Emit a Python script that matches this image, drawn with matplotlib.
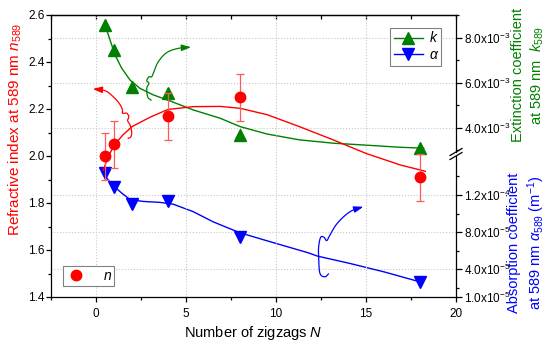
import numpy as np
import matplotlib
matplotlib.use('Agg')
import matplotlib.pyplot as plt
from matplotlib.lines import Line2D
from matplotlib.ticker import MultipleLocator

plt.rcParams['font.family'] = ['Liberation Sans', 'DejaVu Sans']
plt.rcParams['mathtext.fontset'] = 'custom'
plt.rcParams['mathtext.rm'] = 'Liberation Sans'
plt.rcParams['mathtext.it'] = 'Liberation Sans:italic'
plt.rcParams['mathtext.bf'] = 'Liberation Sans:bold'

# measured points
zigzags = [0.5, 1, 4, 8, 18]
n589 = [2.00, 2.05, 2.17, 2.25, 1.91]
n_err = [0.1, 0.1, 0.1, 0.1, 0.1]

kz = [0.5, 1, 2, 4, 8, 18]
k589 = [8.56e-3, 7.47e-3, 5.82e-3, 5.57e-3, 3.68e-3, 3.12e-3]
alpha589 = [1.44e-4, 1.29e-4, 1.10e-4, 1.14e-4, 7.5e-5, 2.6e-5]

# fitted curves
n_fit_x = [0.4, 0.7, 1.0, 1.5, 2.0, 3.0, 4.0, 5.4, 6.9, 8.0, 9.5, 11.3, 13.2, 15.0, 16.9, 18.3]
n_fit_y = [1.94, 2.0, 2.045, 2.09, 2.125, 2.165, 2.198, 2.21, 2.211, 2.203, 2.176, 2.125,
           2.068, 2.011, 1.962, 1.935]
k_fit_x = [0.5, 0.78, 1.06, 1.43, 1.89, 2.44, 3.18, 4.11, 5.4, 6.9, 8.0, 9.5, 11.3, 13.2,
           14.9, 16.9, 18.2]
k_fit_y = [8.58e-3, 7.91e-3, 7.24e-3, 6.65e-3, 6.13e-3, 5.76e-3, 5.47e-3, 5.20e-3, 4.80e-3,
           4.43e-3, 4.06e-3, 3.73e-3, 3.47e-3, 3.32e-3, 3.24e-3, 3.14e-3, 3.10e-3]
a_fit_x = [0.35, 0.6, 0.96, 1.43, 1.89, 2.63, 3.56, 4.3, 5.4, 6.5, 8.0, 9.5, 11.8, 12.3,
           14.1, 16.0, 18.0]
a_fit_y = [1.47e-4, 1.38e-4, 1.30e-4, 1.22e-4, 1.15e-4, 1.13e-4, 1.12e-4, 1.10e-4, 1.02e-4,
           9.11e-5, 7.92e-5, 7.06e-5, 5.76e-5, 5.41e-5, 4.62e-5, 3.71e-5, 2.63e-5]

# curly arrows (tip first), in N / n coordinates
red_arrow = [(-0.18, 2.285), (0.5, 2.278), (0.96, 2.252), (1.29, 2.224), (1.46, 2.199),
             (1.48, 2.182), (1.71, 2.182), (1.82, 2.167), (1.76, 2.150), (1.89, 2.132),
             (1.98, 2.103), (1.94, 2.082), (1.79, 2.075)]
green_arrow = [(5.28, 2.463), (4.57, 2.458), (3.93, 2.440), (3.46, 2.401), (3.22, 2.359),
               (3.09, 2.337), (2.94, 2.337), (2.82, 2.320), (2.94, 2.309), (2.82, 2.288),
               (2.87, 2.252), (3.06, 2.238)]
blue_arrow = [(14.85, 1.784), (14.11, 1.763), (13.41, 1.714), (13.0, 1.664), (12.82, 1.640),
              (12.67, 1.654), (12.48, 1.654), (12.37, 1.614), (12.37, 1.571), (12.44, 1.501),
              (12.72, 1.486), (12.91, 1.498)]


def smooth(pts, steps=10):
    p = np.asarray(pts, float)
    p = np.vstack([p[0], p, p[-1]])
    out = []
    for i in range(1, len(p) - 2):
        p0, p1, p2, p3 = p[i - 1], p[i], p[i + 1], p[i + 2]
        for t in np.linspace(0, 1, steps, endpoint=False):
            out.append(0.5 * (2 * p1 + (-p0 + p2) * t + (2 * p0 - 5 * p1 + 4 * p2 - p3) * t ** 2
                              + (-p0 + 3 * p1 - 3 * p2 + p3) * t ** 3))
    out.append(p[-2])
    return np.array(out)


def curly(ax, pts, color):
    c = smooth(pts)
    ax.plot(c[3:, 0], c[3:, 1], color=color, lw=0.9, zorder=4)
    ax.annotate('', xy=c[0], xytext=c[4], zorder=4,
                arrowprops=dict(arrowstyle='-|>,head_length=0.7,head_width=0.24',
                                color=color, lw=0.9, shrinkA=0, shrinkB=0, mutation_scale=8))


W_PX, H_PX = 550, 348
fig = plt.figure(figsize=(5.5, 3.48), dpi=100)


def box(x0, y0, x1, y1):
    return [x0 / W_PX, 1 - y1 / H_PX, (x1 - x0) / W_PX, (y1 - y0) / H_PX]


ax = fig.add_axes(box(51, 15, 456, 297))
axk = fig.add_axes(box(51, 15, 456, 152))
axa = fig.add_axes(box(51, 156, 456, 297))

ax.set_zorder(3)
ax.patch.set_visible(False)

# main axis
ax.set_xlim(-2.5, 20)
ax.set_ylim(1.4, 2.6)
ax.xaxis.set_major_locator(MultipleLocator(5))
ax.xaxis.set_minor_locator(MultipleLocator(2.5))
ax.yaxis.set_major_locator(MultipleLocator(0.2))
ax.yaxis.set_minor_locator(MultipleLocator(0.1))
ax.yaxis.set_major_formatter(plt.FormatStrFormatter('%.1f'))
ax.spines['right'].set_visible(False)
for s in ('left', 'top', 'bottom'):
    ax.spines[s].set_linewidth(0.9)
ax.tick_params(axis='both', which='major', direction='out', length=3.6, width=0.9, labelsize=8.5)
ax.tick_params(axis='both', which='minor', direction='out', length=2.2, width=0.9)
ax.tick_params(axis='y', which='both', pad=1)
ax.tick_params(axis='x', which='major', pad=4)
ax.grid(axis='x', which='major', color='#c8c8c8', linestyle=':', linewidth=0.8)

top = ax.secondary_xaxis('top')
top.set_xticks([0, 5, 10, 15, 20])
top.xaxis.set_minor_locator(MultipleLocator(2.5))
top.tick_params(axis='x', which='both', direction='in', length=3, width=0.9, labeltop=False)
top.spines['top'].set_linewidth(0.9)

# right axes (broken)
for a in (axk, axa):
    a.set_xlim(-2.5, 20)
    a.patch.set_visible(False)
    for s in ('left', 'top', 'bottom'):
        a.spines[s].set_visible(False)
    a.xaxis.set_visible(False)
    a.yaxis.tick_right()
    a.spines['right'].set_linewidth(0.9)
    a.tick_params(axis='y', which='major', direction='out', length=4, width=0.9, labelsize=8.5, pad=2)
    a.tick_params(axis='y', which='minor', direction='out', length=2.4, width=0.9)
    a.grid(axis='y', which='major', color='#c8c8c8', linestyle=':', linewidth=0.8)

axk.set_ylim(2.93e-3, 9.02e-3)
axk.set_yticks([4e-3, 6e-3, 8e-3])
axk.set_yticklabels([r'4.0x10$^{-3}$', r'6.0x10$^{-3}$', r'8.0x10$^{-3}$'])
axk.set_yticks([3e-3, 5e-3, 7e-3, 9e-3], minor=True)

axa.set_ylim(1.0e-5, 1.62e-4)
axa.set_yticks([1e-5, 4e-5, 8e-5, 1.2e-4])
axa.set_yticklabels([r'1.0x10$^{-5}$', r'4.0x10$^{-5}$', r'8.0x10$^{-5}$', r'1.2x10$^{-4}$'])
axa.set_yticks([2e-5, 6e-5, 1.0e-4, 1.4e-4], minor=True)
axa.yaxis.get_major_ticks()[0].tick2line.set_color('#22dd22')

# data
axk.plot(k_fit_x, k_fit_y, color='green', lw=1, clip_on=False)
axk.plot(kz, k589, '^', color='green', ms=8.5, clip_on=False)
axa.plot(a_fit_x, a_fit_y, color='blue', lw=1, clip_on=False)
axa.plot(kz, alpha589, 'v', color='blue', ms=8.5, clip_on=False)

ax.plot(n_fit_x, n_fit_y, color='red', lw=1, zorder=2)
ax.errorbar(zigzags, n589, yerr=n_err, fmt='o', color='red', ms=7.5, ecolor='#ff5a5a',
            elinewidth=0.9, capsize=3, capthick=0.9, zorder=3)

curly(ax, red_arrow, 'red')
curly(ax, green_arrow, 'green')
curly(ax, blue_arrow, 'blue')

# legends
h_k = Line2D([], [], color='green', marker='^', ms=8.5, lw=1)
h_a = Line2D([], [], color='blue', marker='v', ms=8.5, lw=1)
leg1 = ax.legend([h_k, h_a], ['k', 'α'], loc='upper right',
                 bbox_to_anchor=((441 - 51) / 405, (297 - 28) / 282), borderaxespad=0,
                 fancybox=False, edgecolor='#808080', framealpha=1, numpoints=1,
                 prop={'style': 'italic', 'size': 10}, handlelength=2.1, handletextpad=0.5,
                 borderpad=0.25, labelspacing=0.2)
leg1.get_frame().set_linewidth(0.8)
ax.add_artist(leg1)
h_n = Line2D([], [], color='red', marker='o', ms=7.5, ls='none')
leg2 = ax.legend([h_n], ['n'], loc='lower left',
                 bbox_to_anchor=((63 - 51) / 405, (297 - 286) / 282), borderaxespad=0,
                 fancybox=False, edgecolor='#808080', framealpha=1, numpoints=1,
                 prop={'style': 'italic', 'size': 10}, handlelength=1.5, handletextpad=1.2,
                 borderpad=0.2)
leg2.get_frame().set_linewidth(0.8)

# axis break marks on the right spine
for y0 in (155.5, 159.5):
    fig.add_artist(Line2D([450 / W_PX, 462 / W_PX], [1 - y0 / H_PX, 1 - (y0 - 7) / H_PX],
                          color='black', lw=0.9))

# axis titles
fig.text(15.5 / W_PX, 1 - 129 / H_PX, r'Refractive index at 589 nm $n_{589}$', rotation=90,
         color='red', ha='center', va='center', fontsize=11)
fig.text(253 / W_PX, 1 - 333 / H_PX, r'Number of zigzags $N$', ha='center', va='center',
         fontsize=10.5)
fig.text(528.5 / W_PX, 1 - 75 / H_PX, 'Extinction coefficient\nat 589 nm  $k_{589}$',
         rotation=90, color='green', ha='center', va='center', fontsize=10.5,
         linespacing=1.25, multialignment='center')
fig.text(527 / W_PX, 1 - 243 / H_PX, 'Absorption coefficient\nat 589 nm $\\alpha_{589}$ (m$^{-1}$)',
         rotation=90, color='blue', ha='center', va='center', fontsize=10.5,
         linespacing=1.25, multialignment='center')

fig.savefig('out.png', dpi=100, facecolor='white')
